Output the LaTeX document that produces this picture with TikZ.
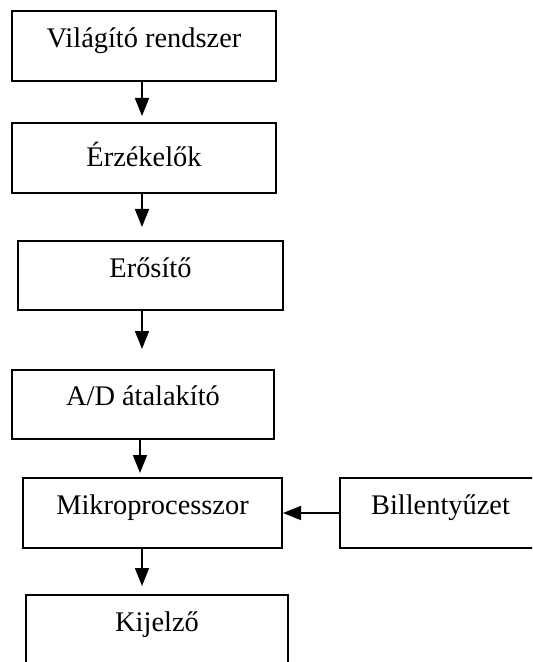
\documentclass[tikz,border=0pt]{standalone}
\usepackage{fontspec}
\setmainfont{Liberation Serif}
\usetikzlibrary{arrows.meta}

\begin{document}
\begin{tikzpicture}[x=0.5pt,y=-0.5pt]
\tikzstyle{every node}+=[inner sep=0pt]
\tikzstyle{blokk}=[draw=black, line width=1pt, minimum height=35pt, text height=10pt, text depth=9pt, font=\fontsize{14.2}{16}\selectfont]
\tikzstyle{nyil}=[draw=black, line width=0.8pt, -{Triangle[length=9pt,width=7pt]}]
\useasboundingbox (0,0) rectangle (532,662);
\clip (0,0) rectangle (532,662);
\coordinate (tengely) at (142,0);
\coordinate (tengelyad) at (140,0);
\node [blokk, minimum width=132pt, text depth=8pt] (vilagito) at (144,46) {Világító rendszer};
\node [blokk, minimum width=132pt, text depth=1pt] (erzekelok) at (144,158) {Érzékelők};
\node [blokk, minimum width=132.5pt, minimum height=34.5pt, text depth=8pt] (erosito) at (150.5,275.5) {Erősítő};
\node [blokk, minimum width=131pt, minimum height=34.5pt] (atalakito) at (143,404.5) {A/D átalakító};
\node [blokk, minimum width=129.5pt] (mikro) at (152.5,513) {Mikroprocesszor};
\node [blokk, minimum width=100.5pt] (billentyuzet) at (440.5,513) {Billentyűzet};
\node [blokk, minimum width=131pt] (kijelzo) at (157,630) {Kijelző};
\draw [nyil, shorten >=3pt] (vilagito.south -| tengely) -- (erzekelok.north -| tengely);
\draw [nyil, shorten >=6.5pt] (erzekelok.south -| tengely) -- (erosito.north -| tengely);
\draw [nyil, shorten >=10pt] (erosito.south -| tengely) -- (atalakito.north -| tengely);
\draw [nyil, shorten >=2pt] (atalakito.south -| tengelyad) -- (mikro.north -| tengelyad);
\draw [nyil] (billentyuzet.west) -- (mikro.east);
\draw [nyil, shorten >=4pt] (mikro.south -| tengely) -- (kijelzo.north -| tengely);
\end{tikzpicture}
\end{document}
